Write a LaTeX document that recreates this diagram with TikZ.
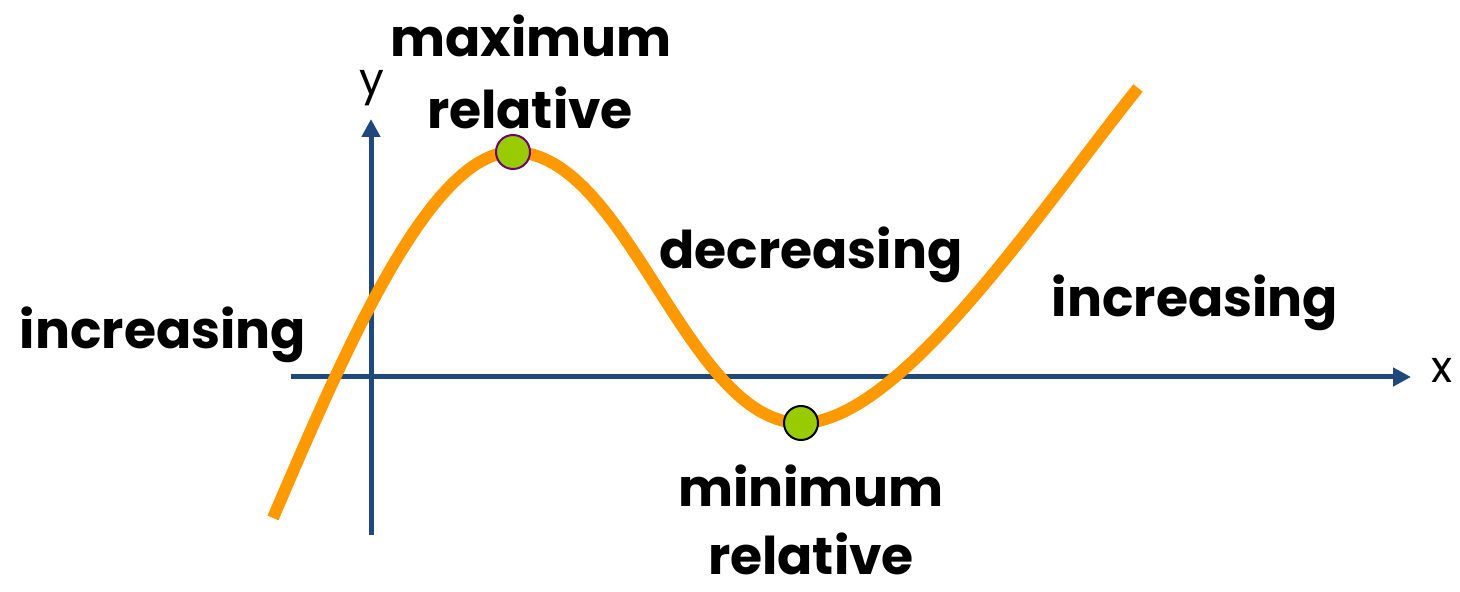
\documentclass[tikz,border=0pt]{standalone}
\usepackage{fontspec}
\setmainfont{Poppins}
\usetikzlibrary{arrows.meta,positioning}
\definecolor{tkek}{RGB}{31,73,125}
\definecolor{narancs}{RGB}{255,153,0}
\definecolor{zold}{RGB}{153,204,0}
\definecolor{lila}{RGB}{112,0,112}
\tikzset{
  pont/.style={circle,draw,line width=1pt,fill=zold,minimum size=17pt,inner sep=0pt},
  felirat/.style={anchor=base,font=\fontsize{26}{30}\selectfont\bfseries,inner sep=0pt},
  tengfel/.style={font=\fontsize{22}{26}\selectfont,inner sep=0pt},
  tengely/.style={draw=tkek,line width=2.5pt,-{Triangle[length=9pt,width=9pt]}},
  gorbe/.style={draw=narancs,line width=6pt},
}
\begin{document}
\begin{tikzpicture}[x=0.5pt,y=-0.5pt]
  \useasboundingbox (0,0) rectangle (1460,592);
  % tengelyek
  \coordinate (xbal) at (291,377);
  \coordinate (xveg) at (1411,377);
  \coordinate (ylent) at (371,535);
  \coordinate (yfent) at (371,119);
  \draw[tengely] (xbal) -- (xveg);
  \draw[tengely] (ylent) -- (yfent);
  \node[tengfel] (xlab) at (1442,370) {x};
  \node[tengfel] (ylab) at (372,88) {y};
  % a gorbe
  \coordinate (start) at (273,518);
  \coordinate (cs) at (513,152);
  \coordinate (vs) at (801,423);
  \coordinate (veg) at (1138,88);
  \draw[gorbe] (start) .. controls (345,350) and (430,152) .. (cs)
    .. controls (628,152) and (686,423) .. (vs)
    .. controls (900,423) and (1040,210) .. (veg);
  \node[pont,draw=lila] (maxp) at (cs) {};
  \node[pont,draw=black] (minp) at (vs) {};
  % feliratok
  \node[felirat] (max1) at (531,57) {maximum};
  \node[felirat] (max2) at (530,129) {relative};
  \node[felirat] (csokk) at (811,269) {decreasing};
  \node[felirat] (nov1) at (163,349) {increasing};
  \node[felirat] (nov2) at (1195,317) {increasing};
  \node[felirat] (min1) at (811,506) {minimum};
  \node[felirat] (min2) at (811,574) {relative};
\end{tikzpicture}
\end{document}
